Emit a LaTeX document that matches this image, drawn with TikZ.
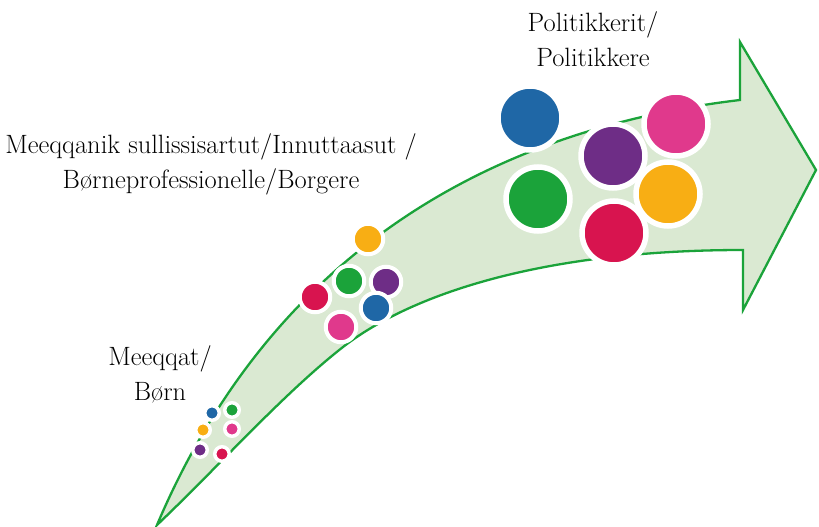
\documentclass[tikz,border=0pt]{standalone}
\usepackage{fontspec}

\definecolor{kgreen}{HTML}{1BA33A}
\definecolor{kpale}{HTML}{DAE9D2}
\definecolor{kblue}{HTML}{1F67A6}
\definecolor{kpurple}{HTML}{6E2D86}
\definecolor{kpink}{HTML}{E0398C}
\definecolor{korange}{HTML}{F8AE14}
\definecolor{kred}{HTML}{D8144F}

\tikzset{
  bigdot/.style={circle,draw=white,line width=5.5pt,minimum size=64pt,inner sep=0pt},
  middot/.style={circle,draw=white,line width=4pt,minimum size=30.5pt,inner sep=0pt},
  smalldot/.style={circle,draw=white,line width=3.5pt,minimum size=14.5pt,inner sep=0pt},
  label/.style={align=center,font=\fontsize{26.5}{35}\selectfont}
}

\begin{document}
\begin{tikzpicture}[x=1pt,y=-1pt]
        \useasboundingbox (0,0) rectangle (819,527);

        % The bent arrow
        \filldraw[kgreen,fill=kpale,line width=2.3pt,line join=miter]
          (157,525) .. controls (265,270) and (470,132) .. (740,100)
          -- (740,42) -- (816,170) -- (743,310) -- (743,250)
          .. controls (540,250) and (410,295) .. (343,347)
          .. controls (283,394) and (220,465) .. (157,525) -- cycle;

        % Small dots
        \node[smalldot,fill=kblue] (sblue) at (212,413) {};
        \node[smalldot,fill=kgreen] (sgreen) at (232,410) {};
        \node[smalldot,fill=korange] (sorange) at (203,430) {};
        \node[smalldot,fill=kpink] (spink) at (232,429) {};
        \node[smalldot,fill=kpurple] (spurple) at (200,450) {};
        \node[smalldot,fill=kred] (sred) at (222,454) {};

        % Middle dots
        \node[middot,fill=korange] (morange) at (368,239) {};
        \node[middot,fill=kgreen] (mgreen) at (349,281) {};
        \node[middot,fill=kpurple] (mpurple) at (386,282) {};
        \node[middot,fill=kred] (mred) at (315,297) {};
        \node[middot,fill=kblue] (mblue) at (376,308) {};
        \node[middot,fill=kpink] (mpink) at (341,327) {};

        % Big dots
        \node[bigdot,fill=kblue] (bblue) at (530,118) {};
        \node[bigdot,fill=kgreen] (bgreen) at (538,199) {};
        \node[bigdot,fill=kpurple] (bpurple) at (613,156) {};
        \node[bigdot,fill=kpink] (bpink) at (676,124) {};
        \node[bigdot,fill=kred] (bred) at (614,233) {};
        \node[bigdot,fill=korange] (borange) at (668,194) {};

        % Labels
        \node[label] (born) at (160,374) {Meeqqat/\\Børn};
        \node[label] (borgere) at (211,164) {Meeqqanik sullissisartut/Innuttaasut /\\Børneprofessionelle/Borgere};
        \node[label] (politik) at (593,39) {Politikkerit/\\Politikkere};
\end{tikzpicture}
\end{document}
